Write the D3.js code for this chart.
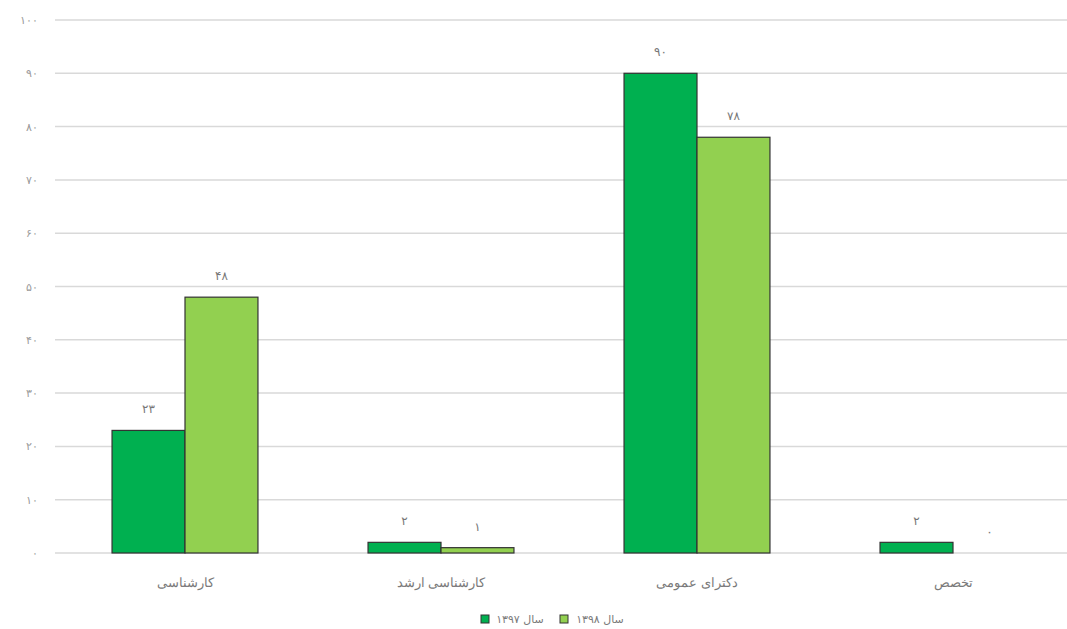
<!DOCTYPE html>
<html>
<head>
<meta charset="utf-8">
<script src="https://cdn.jsdelivr.net/npm/d3@7"></script>
<style>
  html, body { margin: 0; padding: 0; background: #fff; }
  svg { display: block; font-family: "DejaVu Sans", "Noto Sans", sans-serif; }
</style>
</head>
<body>
<svg id="chart" width="1067" height="629"></svg>
<script>
const categories = ["کارشناسی", "کارشناسی ارشد", "دکترای عمومی", "تخصص"];
const seriesNames = ["سال ۱۳۹۷", "سال ۱۳۹۸"];
const values1397 = [23, 2, 90, 2];
const values1398 = [48, 1, 78, 0];
const yTicks = [0, 10, 20, 30, 40, 50, 60, 70, 80, 90, 100];
const colors = ["#00b050", "#92d050"];

const faDigits = "۰۱۲۳۴۵۶۷۸۹";
const toFa = n => String(n).replace(/\d/g, d => faDigits[+d]);

const svg = d3.select("#chart");
const W = 1067, H = 629;

const y = d3.scaleLinear().domain([0, 100]).range([553, 20]);
const x0 = d3.scaleBand().domain(categories).range([57, 1081])
  .paddingInner(0.43).paddingOuter(0.215);
const x1 = d3.scaleBand().domain(seriesNames).range([0, x0.bandwidth()]).padding(0);

// gridlines
svg.append("g").selectAll("line").data(yTicks).join("line")
  .attr("x1", 55).attr("x2", W)
  .attr("y1", d => y(d)).attr("y2", d => y(d))
  .attr("stroke", "#d9d9d9").attr("stroke-width", 1.5);

// y axis labels
const yAxis = d3.axisLeft(y).tickValues(yTicks).tickFormat(toFa).tickSize(0).tickPadding(0);
const ya = svg.append("g").attr("transform", "translate(38,0)").call(yAxis);
ya.select(".domain").remove();
ya.selectAll("text").attr("fill", "#999").attr("font-size", 11);

const data = categories.map((c, i) => ({ cat: c, vals: [values1397[i], values1398[i]] }));

const groups = svg.append("g").selectAll("g").data(data).join("g")
  .attr("transform", d => `translate(${x0(d.cat)},0)`);

groups.selectAll("rect").data(d => d.vals.map((v, j) => ({ s: seriesNames[j], v, j })))
  .join("rect")
  .filter(d => d.v > 0)
  .attr("x", d => x1(d.s))
  .attr("y", d => y(d.v))
  .attr("width", x1.bandwidth())
  .attr("height", d => y(0) - y(d.v))
  .attr("fill", d => colors[d.j])
  .attr("stroke", "#333").attr("stroke-width", 1.2);

groups.selectAll("text.val").data(d => d.vals.map((v, j) => ({ s: seriesNames[j], v, j })))
  .join("text").attr("class", "val")
  .attr("x", d => x1(d.s) + x1.bandwidth() / 2)
  .attr("y", d => y(d.v) - 17)
  .attr("text-anchor", "middle")
  .attr("fill", "#777").attr("font-size", 12)
  .text(d => toFa(d.v));

// x axis labels
const xAxis = d3.axisBottom(x0).tickSize(0).tickPadding(0);
const xa = svg.append("g").attr("transform", "translate(0,578)").call(xAxis);
xa.select(".domain").remove();
xa.selectAll("text").attr("fill", "#7a7a7a").attr("font-size", 13).attr("dy", "0.71em");

// legend
const legendItems = [
  { name: seriesNames[0], color: colors[0], sx: 481, tx: 520 },
  { name: seriesNames[1], color: colors[1], sx: 560, tx: 600 }
];
const lg = svg.append("g");
lg.selectAll("rect").data(legendItems).join("rect")
  .attr("x", d => d.sx).attr("y", 615).attr("width", 8).attr("height", 8)
  .attr("fill", d => d.color).attr("stroke", "#333").attr("stroke-width", 1);
lg.selectAll("text").data(legendItems).join("text")
  .attr("x", d => d.tx).attr("y", 623)
  .attr("text-anchor", "middle").attr("direction", "rtl")
  .attr("fill", "#7a7a7a").attr("font-size", 11)
  .text(d => d.name);
</script>
</body>
</html>
